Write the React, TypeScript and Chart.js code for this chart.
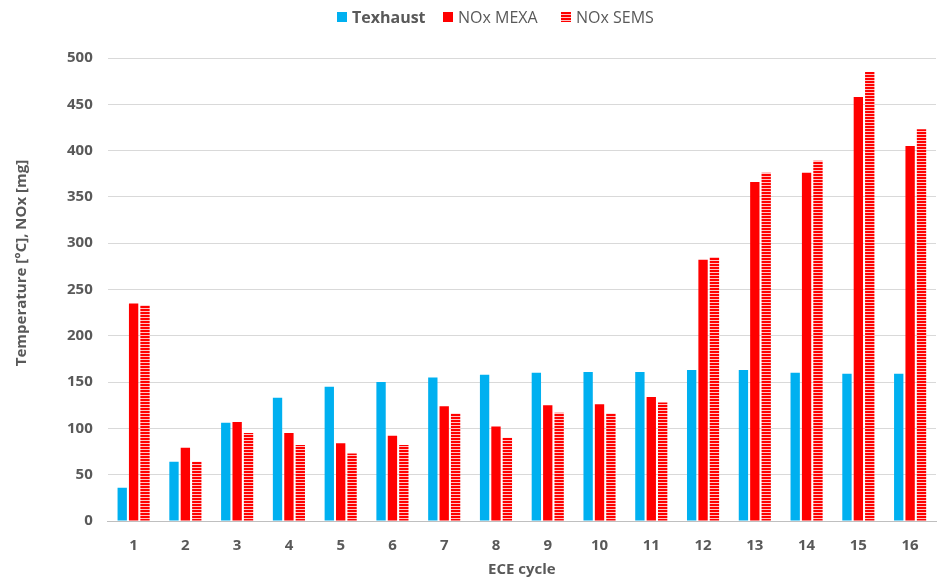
import React, { useEffect, useRef } from "react";
import { Chart, registerables } from "chart.js";

Chart.register(...registerables);

const cycles = ["1", "2", "3", "4", "5", "6", "7", "8", "9", "10", "11", "12", "13", "14", "15", "16"];
const texhaust = [36, 64, 106, 133, 145, 150, 155, 158, 160, 161, 161, 163, 163, 160, 159, 159];
const noxMexa = [235, 79, 107, 95, 84, 92, 124, 102, 125, 126, 134, 282, 366, 376, 458, 405];
const noxSems = [233, 64, 95, 82, 73, 82, 116, 90, 117, 116, 128, 285, 376, 389, 485, 423];
const yTicks = [0, 50, 100, 150, 200, 250, 300, 350, 400, 450, 500];
const legendLabels = ["Texhaust", "NOx MEXA", "NOx SEMS"];

const BLUE = "#00b0f0";
const RED = "#ff0000";
const GRAY = "#595959";
const FONT = "'Open Sans', 'Noto Sans', sans-serif";

function makePattern(): CanvasPattern | string {
  const c = document.createElement("canvas");
  c.width = 4;
  c.height = 3;
  const ctx = c.getContext("2d");
  if (!ctx) return RED;
  ctx.fillStyle = "#ffc4c4";
  ctx.fillRect(0, 0, 4, 3);
  ctx.fillStyle = RED;
  ctx.fillRect(0, 0, 4, 2);
  const p = ctx.createPattern(c, "repeat");
  return p || RED;
}

export default function App() {
  const ref = useRef<HTMLCanvasElement | null>(null);

  useEffect(() => {
    document.body.style.margin = "0";
    const canvas = ref.current;
    if (!canvas) return;
    const pattern = makePattern();

    const customPlugin = {
      id: "customDecor",
      afterDraw(chart: any) {
        const ctx = chart.ctx as CanvasRenderingContext2D;
        ctx.save();
        // Legend
        const fills: any[] = [BLUE, RED, pattern];
        const starts = [337, 443, 561];
        const box = 10;
        const cy = 17;
        legendLabels.forEach((label, i) => {
          const x = starts[i];
          ctx.fillStyle = fills[i];
          ctx.fillRect(x, cy - box / 2, box, box);
          ctx.font = `${i === 0 ? "700" : "400"} 16px ${FONT}`;
          ctx.fillStyle = GRAY;
          ctx.textAlign = "left";
          ctx.textBaseline = "middle";
          ctx.fillText(label, x + box + 5, cy + 1);
        });
        // Y axis title
        ctx.translate(22, 263);
        ctx.rotate(-Math.PI / 2);
        ctx.font = `700 15px ${FONT}`;
        ctx.fillStyle = GRAY;
        ctx.textAlign = "center";
        ctx.textBaseline = "middle";
        ctx.fillText("Temperature [°C], NOx [mg]", 0, 0);
        ctx.restore();
      },
    };

    const chart = new Chart(canvas, {
      type: "bar",
      data: {
        labels: cycles,
        datasets: [
          { label: legendLabels[0], data: texhaust, backgroundColor: BLUE },
          { label: legendLabels[1], data: noxMexa, backgroundColor: RED },
          { label: legendLabels[2], data: noxSems, backgroundColor: pattern as any },
        ],
      },
      options: {
        animation: false,
        responsive: false,
        maintainAspectRatio: false,
        datasets: {
          bar: { categoryPercentage: 0.66, barPercentage: 0.82 },
        },
        layout: { padding: { top: 58, left: 52, right: 3, bottom: 6 } },
        plugins: {
          legend: { display: false },
          tooltip: { enabled: false },
        },
        scales: {
          x: {
            grid: { display: false },
            border: { display: true, color: "#bfbfbf" },
            ticks: { color: GRAY, font: { family: FONT, size: 15, weight: "bold" }, padding: 8 },
            title: {
              display: true,
              text: "ECE cycle",
              color: GRAY,
              font: { family: FONT, size: 15, weight: "bold" },
              padding: { top: -2, bottom: 0 },
            },
          },
          y: {
            min: 0,
            max: 500,
            afterBuildTicks: (axis: any) => {
              axis.ticks = yTicks.map((v) => ({ value: v }));
            },
            grid: { color: "#d9d9d9", drawTicks: false },
            border: { display: false },
            ticks: { color: GRAY, font: { family: FONT, size: 15, weight: "bold" }, padding: 15 },
          },
        },
      },
      plugins: [customPlugin],
    });
    return () => chart.destroy();
  }, []);

  return <canvas ref={ref} width={939} height={585} style={{ display: "block" }} />;
}
